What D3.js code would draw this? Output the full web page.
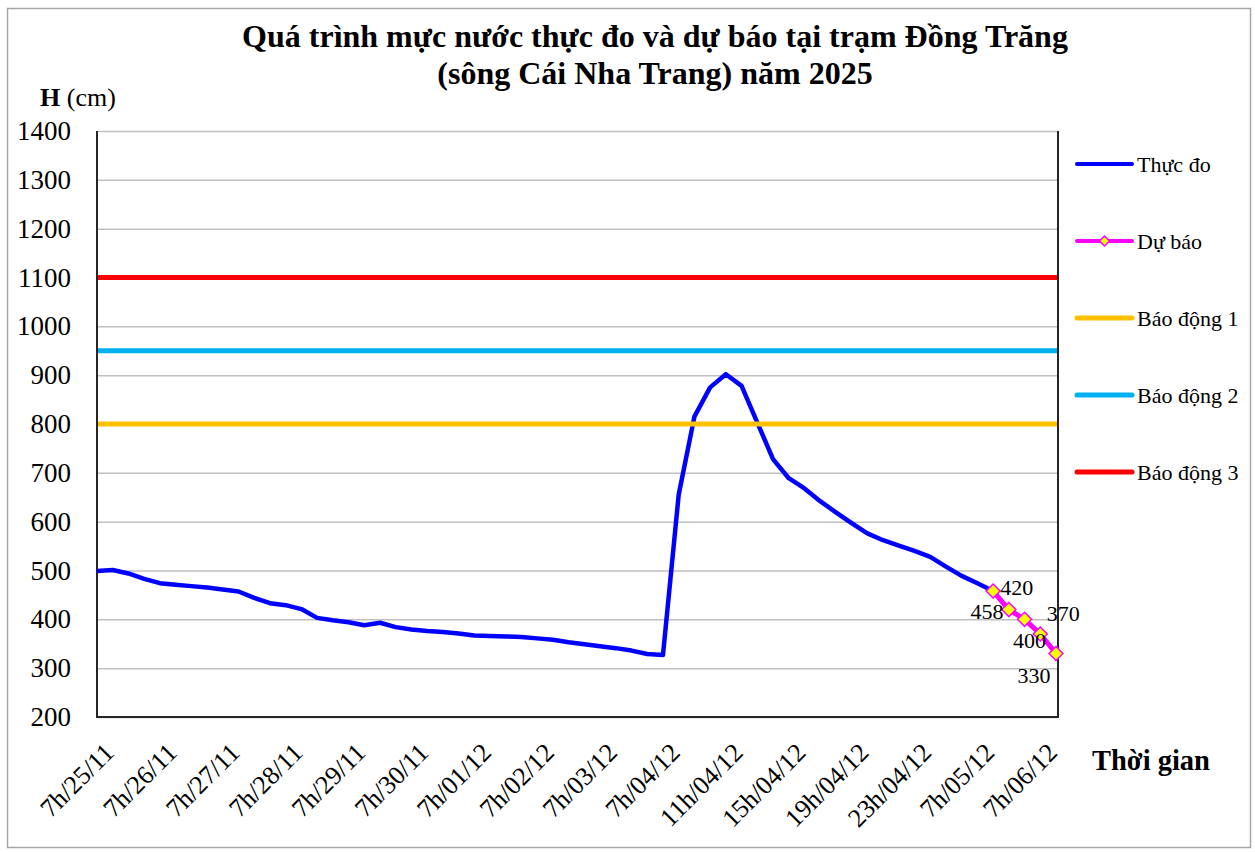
<!DOCTYPE html>
<html>
<head>
<meta charset="utf-8">
<script src="https://cdn.jsdelivr.net/npm/d3@7"></script>
<style>
  body { margin: 0; background: #fff; }
  svg text { font-family: "Liberation Serif", "Times New Roman", serif; fill: #000; }
</style>
</head>
<body>
<svg id="chart" width="1255" height="852"></svg>
<script>
// tick labels on the category axis, one every 4 points
var tickLabels = ['7h/25/11', '7h/26/11', '7h/27/11', '7h/28/11', '7h/29/11', '7h/30/11',
                  '7h/01/12', '7h/02/12', '7h/03/12', '7h/04/12', '11h/04/12', '15h/04/12',
                  '19h/04/12', '23h/04/12', '7h/05/12', '7h/06/12'];

// measured water level (cm)
var observed = [499, 501, 494, 483, 474, 471, 468, 465, 461, 457, 444, 433, 429, 421, 403,
                398, 394, 388, 393, 384, 379, 376, 374, 371, 367, 366, 365, 364, 361, 358,
                353, 349, 345, 341, 336, 329, 327, 655, 815, 875, 902, 878, 803, 728, 689,
                668, 642, 619, 597, 576, 562, 551, 540, 528, 508, 489, 474, 458];

// forecast, starts at the last measured point
var forecast = [458, 420, 400, 370, 330];

// alarm levels
var alarmNames = ['Báo động 1', 'Báo động 2', 'Báo động 3'];
var alarmLevels = [800, 950, 1100];

var yTicks = [200, 300, 400, 500, 600, 700, 800, 900, 1000, 1100, 1200, 1300, 1400];

var svg = d3.select('#chart')
  , plot = { left: 97, right: 1058, top: 131, bottom: 717 }
  , alarmColors = ['#FFC000', '#00B0F0', '#FF0000']
  , labelEvery = 4
  , nPoints = observed.length + forecast.length - 1
  , fStart = observed.length - 1
  , x, y, _diamond, line, g;

x = d3.scalePoint().domain(d3.range(nPoints)).range([plot.left, 1056]);
y = d3.scaleLinear().domain([200, 1400]).range([plot.bottom, plot.top]);

_diamond = function (r) {
  return 'M0,' + (-r) + 'L' + r + ',0L0,' + r + 'L' + (-r) + ',0Z';
};

// outer frame
svg.append('rect')
  .attr('x', 7.5).attr('y', 8.5).attr('width', 1243).attr('height', 839)
  .attr('fill', 'none').attr('stroke', '#a6a6a6').attr('stroke-width', 1.5);

// title
svg.append('text')
  .attr('x', 655).attr('y', 47).attr('text-anchor', 'middle')
  .style('font-size', '32px').style('font-weight', 'bold')
  .text('Quá trình mực nước thực đo và dự báo tại trạm Đồng Trăng');
svg.append('text')
  .attr('x', 655).attr('y', 84).attr('text-anchor', 'middle')
  .style('font-size', '32px').style('font-weight', 'bold')
  .text('(sông Cái Nha Trang) năm 2025');

// y label
g = svg.append('text').attr('x', 40).attr('y', 106).style('font-size', '26px');
g.append('tspan').style('font-weight', 'bold').text('H');
g.append('tspan').text(' (cm)');

// gridlines
svg.append('g')
  .attr('transform', 'translate(' + plot.left + ',0)')
  .call(d3.axisLeft(y).tickValues(yTicks).tickSize(-(plot.right - plot.left)).tickFormat(''))
  .call(function (s) {
    s.select('.domain').remove();
    s.selectAll('line').attr('stroke', '#c0c0c0').attr('stroke-width', 1.5);
  });

// y axis
svg.append('g')
  .attr('transform', 'translate(' + plot.left + ',0)')
  .call(d3.axisLeft(y).tickValues(yTicks).tickSize(0).tickPadding(26).tickFormat(d3.format('d')))
  .call(function (s) {
    s.select('.domain').remove();
    s.selectAll('text').style('font-size', '27px')
      .style('font-family', '"Liberation Serif", serif').attr('fill', '#000');
  });

// x axis
svg.append('g')
  .attr('transform', 'translate(0,' + plot.bottom + ')')
  .call(d3.axisBottom(x)
    .tickValues(d3.range(0, nPoints, labelEvery))
    .tickFormat(function (i) { return tickLabels[i / labelEvery]; })
    .tickSize(0))
  .call(function (s) {
    s.select('.domain').remove();
    s.selectAll('text')
      .attr('x', 0).attr('y', 0).attr('dy', 0)
      .attr('transform', 'translate(18,37) rotate(-45)')
      .style('text-anchor', 'end').style('font-size', '26px')
      .style('font-family', '"Liberation Serif", serif').attr('fill', '#000');
  });

svg.append('text')
  .attr('x', 1092).attr('y', 770)
  .style('font-size', '28.5px').style('font-weight', 'bold')
  .text('Thời gian');

// plot frame
svg.append('path')
  .attr('d', 'M' + plot.left + ',' + plot.top + 'V' + plot.bottom + 'H' + plot.right + 'V' + plot.top)
  .attr('fill', 'none').attr('stroke', '#262626').attr('stroke-width', 2);

line = d3.line()
  .x(function (d) { return x(d.i); })
  .y(function (d) { return y(d.v); });

// observed
svg.append('path')
  .datum(observed.map(function (v, i) { return { i: i, v: v }; }))
  .attr('d', line)
  .attr('fill', 'none').attr('stroke', '#0000FF').attr('stroke-width', 4.5)
  .attr('stroke-linejoin', 'round');

// forecast
var fData = forecast.map(function (v, k) { return { i: fStart + k, v: v }; });
svg.append('path')
  .datum(fData)
  .attr('d', line)
  .attr('fill', 'none').attr('stroke', '#FF00FF').attr('stroke-width', 5)
  .attr('stroke-linejoin', 'round');

// alarm lines (drawn on top, like the original)
svg.selectAll('.alarm')
  .data(alarmLevels)
  .enter().append('line')
  .attr('class', 'alarm')
  .attr('x1', plot.left + 1).attr('x2', plot.right - 1)
  .attr('y1', function (d) { return y(d); })
  .attr('y2', function (d) { return y(d); })
  .attr('stroke', function (d, i) { return alarmColors[i]; })
  .attr('stroke-width', 5);

svg.selectAll('.mk')
  .data(fData)
  .enter().append('path')
  .attr('class', 'mk')
  .attr('transform', function (d) { return 'translate(' + x(d.i) + ',' + y(d.v) + ')'; })
  .attr('d', _diamond(7))
  .attr('fill', '#FFFF00').attr('stroke', '#FF00FF').attr('stroke-width', 1.5);

// data labels, alternating below / above
var labelOffsets = [[-6, 20], [8, -22], [5, 21], [23, -21], [-22, 22]];
svg.selectAll('.dl')
  .data(fData)
  .enter().append('text')
  .attr('class', 'dl')
  .attr('x', function (d, k) { return x(d.i) + labelOffsets[k][0]; })
  .attr('y', function (d, k) { return y(d.v) + labelOffsets[k][1]; })
  .attr('dy', '0.35em')
  .attr('text-anchor', 'middle')
  .style('font-size', '22px')
  .text(function (d) { return d.v; });

// legend
var legendItems = [{ name: 'Thực đo', color: '#0000FF', marker: false }
                 , { name: 'Dự báo', color: '#FF00FF', marker: true }]
  .concat(alarmNames.map(function (n, i) { return { name: n, color: alarmColors[i], marker: false }; }));

var lg = svg.selectAll('.lg')
  .data(legendItems)
  .enter().append('g')
  .attr('class', 'lg')
  .attr('transform', function (d, i) { return 'translate(1077,' + (164 + i * 77) + ')'; });

lg.append('line')
  .attr('x1', 0).attr('x2', 55)
  .attr('stroke', function (d) { return d.color; })
  .attr('stroke-width', function (d, i) { return i < 2 ? 4 : 5; })
  .attr('stroke-linecap', 'round');

lg.filter(function (d) { return d.marker; })
  .append('path')
  .attr('transform', 'translate(27.5,0)')
  .attr('d', _diamond(5))
  .attr('fill', '#FFFF00').attr('stroke', '#FF00FF').attr('stroke-width', 1.5);

lg.append('text')
  .attr('x', 60).attr('dy', '0.35em')
  .style('font-size', '22px')
  .text(function (d) { return d.name; });
</script>
</body>
</html>
